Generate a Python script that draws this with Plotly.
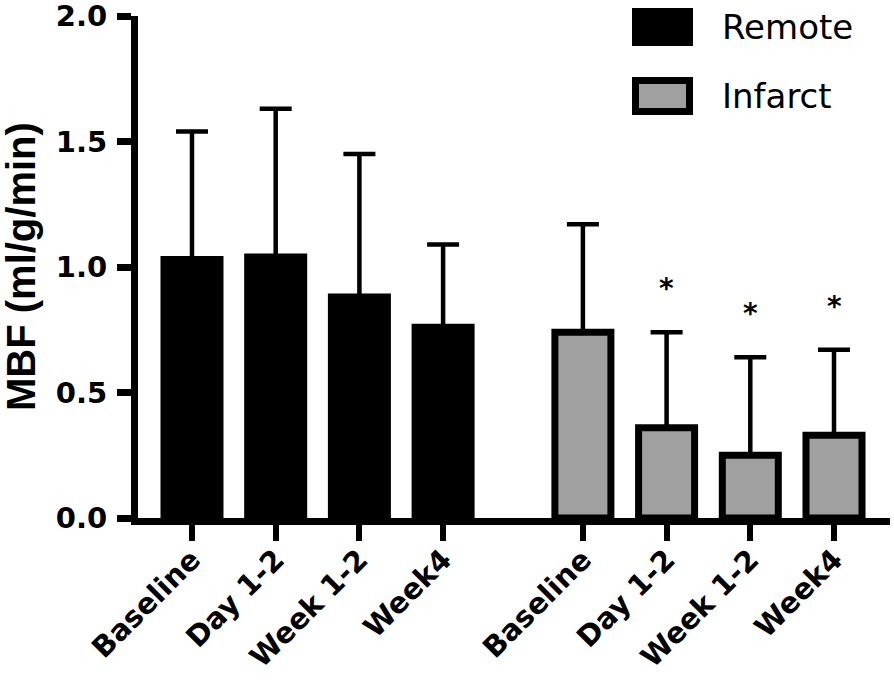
import plotly.graph_objects as go

# ---------------- data ----------------
categories = ["Baseline", "Day 1-2", "Week 1-2", "Week4"]
groups = ["Remote", "Infarct"]
remote_mean = [1.03, 1.04, 0.88, 0.76]
remote_sd = [0.51, 0.59, 0.57, 0.33]
infarct_mean = [0.74, 0.36, 0.25, 0.33]
infarct_sd = [0.43, 0.38, 0.39, 0.34]
infarct_sig = ["", "*", "*", "*"]
y_ticks = [0.0, 0.5, 1.0, 1.5, 2.0]
y_title = "MBF (ml/g/min)"

# ---------------- layout constants ----------------
W, H = 894, 682
L, R, T, B = 138, 4, 16, 164
PW, PH = W - L - R, H - T - B
GAP = 0.67
X_RANGE = [-0.645, 8.339]
GRAY = "#A0A0A0"
TICK_FONT = dict(family="DejaVu Sans", size=29, color="black", weight="bold")
XTICK_FONT = dict(family="DejaVu Sans", size=29, color="black", weight="bold")


def px(x):
    return (x - L) / PW


def py(y):
    return (H - B - y) / PH


n = len(categories)
remote_x = list(range(n))
infarct_x = [i + n + GAP for i in range(n)]

fig = go.Figure()
fig.add_trace(go.Bar(
    x=remote_x, y=remote_mean, name=groups[0], width=0.669,
    marker=dict(color="black", line=dict(color="black", width=7)),
    error_y=dict(type="data", symmetric=False, array=remote_sd,
                 arrayminus=[0] * n, color="black", thickness=4.5, width=16),
))
fig.add_trace(go.Bar(
    x=infarct_x, y=infarct_mean, name=groups[1], width=0.669,
    marker=dict(color=GRAY, line=dict(color="black", width=7)),
    error_y=dict(type="data", symmetric=False, array=infarct_sd,
                 arrayminus=[0] * n, color="black", thickness=4.5, width=16),
))

annotations = []
for xi, m, s, sig in zip(infarct_x, infarct_mean, infarct_sd, infarct_sig):
    if sig:
        annotations.append(dict(
            x=xi, y=m + s + 0.19, xref="x", yref="y", text=sig, showarrow=False,
            xanchor="center", yanchor="middle", yshift=-4,
            font=dict(family="DejaVu Sans", size=28, color="black", weight="bold"),
        ))

# y-axis title
annotations.append(dict(
    x=px(21), y=0.5, xref="paper", yref="paper", text=y_title, showarrow=False,
    textangle=-90, xanchor="center", yanchor="middle",
    font=dict(family="Liberation Sans", size=40, color="black", weight="bold"),
))

# custom legend
legend_fills = ["black", GRAY]
legend_rows = [27, 96]
shapes = [
    dict(type="rect", xref="paper", yref="paper",
         x0=px(632), x1=px(693), y0=py(46), y1=py(8),
         fillcolor=legend_fills[0], line=dict(width=0)),
    dict(type="rect", xref="paper", yref="paper",
         x0=px(635.5), x1=px(689.5), y0=py(111.5), y1=py(80.5),
         fillcolor=legend_fills[1], line=dict(color="black", width=7)),
]
for name, row in zip(groups, legend_rows):
    annotations.append(dict(
        x=px(720), y=py(row), xref="paper", yref="paper", text=name,
        showarrow=False, xanchor="left", yanchor="middle",
        font=dict(family="DejaVu Sans", size=34, color="black"),
    ))

fig.update_layout(
    width=W, height=H,
    margin=dict(l=L, r=R, t=T, b=B, autoexpand=False),
    barmode="overlay",
    showlegend=False,
    plot_bgcolor="white", paper_bgcolor="white",
    annotations=annotations, shapes=shapes,
    xaxis=dict(
        range=X_RANGE, tickmode="array", tickvals=remote_x + infarct_x,
        ticktext=categories + categories, tickangle=-45,
        showline=True, linewidth=7, linecolor="black",
        ticks="outside", ticklen=16, tickwidth=6, tickcolor="black",
        showgrid=False, zeroline=False, tickfont=XTICK_FONT,
        ticklabeloverflow="allow", ticklabelstandoff=-10,
    ),
    yaxis=dict(
        range=[0, 2], tickmode="array", tickvals=y_ticks,
        ticktext=[f"{v:.1f}" for v in y_ticks],
        showline=True, linewidth=7, linecolor="black",
        ticks="outside", ticklen=14, tickwidth=7, tickcolor="black",
        showgrid=False, zeroline=False, tickfont=TICK_FONT,
        ticklabeloverflow="allow", ticklabelstandoff=4,
    ),
)

fig.write_html(
    "out.html",
    config={"displayModeBar": False},
    post_script="document.body.style.margin='0';document.body.style.overflow='hidden';",
)
